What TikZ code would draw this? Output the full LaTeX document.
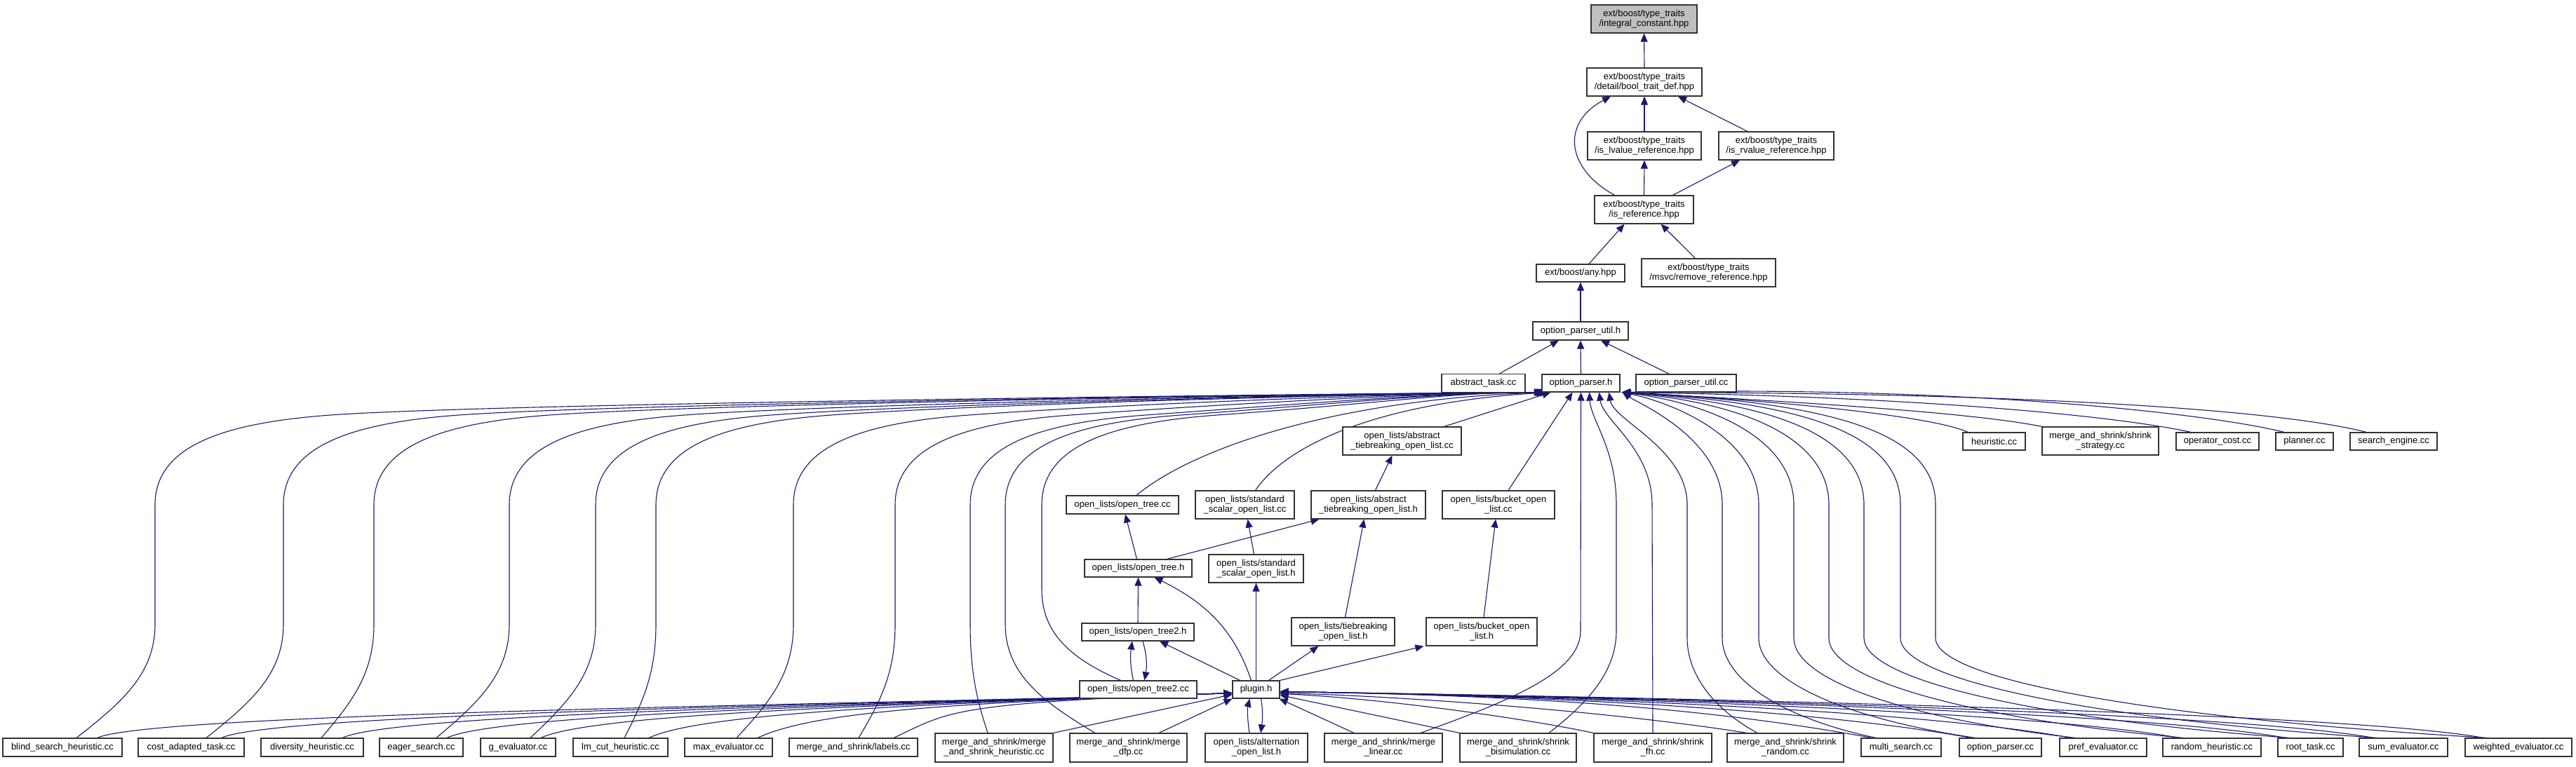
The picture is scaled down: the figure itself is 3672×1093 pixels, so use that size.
\documentclass[tikz,border=0pt]{standalone}
\usepackage{fontspec}
\setmainfont{Liberation Sans}
\usetikzlibrary{arrows.meta}
\definecolor{edgec}{HTML}{191970}
\pgfdeclarelayer{bg}
\pgfsetlayers{bg,main}
\newcommand\nd[6]{\node[#1,minimum width=#4pt,minimum height=#5pt] (#2) at (#3) {#6};}
% left bottom node -> option_parser.h through a vertical lane
\newcommand\lanel[5]{\draw[edge] ([xshift=#2pt]#1.north) .. controls ({#3+0.6*(#4-#3)},1000) and (#4,960) .. (#4,890) -- (#4,720) .. controls (#4,635) and ({#4+100},603) .. ({#4+250},592) .. controls ({#4+500},574) and (2050,560) .. ([xshift=#5pt]oph.south);}
% left bottom node -> plugin.h
\newcommand\plugl[3]{\draw[edge] ([xshift=#2pt]#1.north) .. controls ({#3+80},1015) and (1350,1003) .. ([yshift=-5pt]plug.west);}
% right bottom node -> option_parser.h through a vertical lane
\newcommand\laner[4]{\draw[edge] ([xshift=#2pt]#1.north) .. controls ({#3-0.6*(#3-#4)},1025) and (#4,970) .. (#4,910) -- (#4,720) .. controls (#4,625) and ({#4-120},575) .. ([xshift=3pt]oph.south east);}
% right bottom node -> plugin.h
\newcommand\plugr[3]{\draw[edge] ([xshift=#2pt]#1.north) .. controls ({#3-220},1012) and (2200,992) .. ([yshift=-3pt]plug.east);}
\begin{document}
\begin{tikzpicture}[x=1pt,y=-1pt,
  box/.style={draw=black!80, line width=1.2pt, fill=white, inner sep=0pt, align=center, font=\fontsize{13}{14}\selectfont},
  rootbox/.style={box, fill=black!25},
  edge/.style={draw=edgec, line width=1.1pt, -{Triangle[length=12pt,width=10pt]}}]
\useasboundingbox (0,0) rectangle (3672,1093);
\begin{pgfonlayer}{bg}
\fill[white] (0,0) rectangle (3672,1093);
\end{pgfonlayer}
% ---------- nodes ----------
\nd{rootbox}{ic}{2343.5,27}{151}{40}{ext/boost/type\_traits\\/integral\_constant.hpp}
\nd{box}{btd}{2344,117}{164}{40}{ext/boost/type\_traits\\/detail/bool\_trait\_def.hpp}
\nd{box}{lval}{2344,208}{162}{40}{ext/boost/type\_traits\\/is\_lvalue\_reference.hpp}
\nd{box}{rval}{2532,208}{164}{40}{ext/boost/type\_traits\\/is\_rvalue\_reference.hpp}
\nd{box}{isref}{2343.5,299}{141}{40}{ext/boost/type\_traits\\/is\_reference.hpp}
\nd{box}{any}{2253,389.5}{126}{25}{ext/boost/any.hpp}
\nd{box}{rmref}{2435.5,389}{191}{40}{ext/boost/type\_traits\\/msvc/remove\_reference.hpp}
\nd{box}{opuh}{2253,472}{136}{26}{option\_parser\_util.h}
\nd{box}{oph}{2253.5,546.5}{111}{25}{option\_parser.h}
\nd{box}{abt}{2114.5,546.5}{119}{26}{abstract\_task.cc}
\nd{box}{opuc}{2403.5,546.5}{143}{25}{option\_parser\_util.cc}
\nd{box}{heur}{2842.5,629.5}{89}{25}{heuristic.cc}
\nd{box}{shst}{2994,629}{166}{40}{merge\_and\_shrink/shrink\\\_strategy.cc}
\nd{box}{opc}{3161,629.5}{118}{25}{operator\_cost.cc}
\nd{box}{plan}{3285,629.5}{82}{25}{planner.cc}
\nd{box}{seng}{3412,629.5}{124}{25}{search\_engine.cc}
\nd{box}{atbcc}{1998.5,629}{169}{40}{open\_lists/abstract\\\_tiebreaking\_open\_list.cc}
\nd{box}{otcc}{1600,720}{160}{26}{open\_lists/open\_tree.cc}
\nd{box}{sscc}{1774.5,720}{141}{40}{open\_lists/standard\\\_scalar\_open\_list.cc}
\nd{box}{atbh}{1950.5,720}{163}{40}{open\_lists/abstract\\\_tiebreaking\_open\_list.h}
\nd{box}{bcc}{2136,720}{160}{40}{open\_lists/bucket\_open\\\_list.cc}
\nd{box}{oth}{1622.5,810.5}{153}{25}{open\_lists/open\_tree.h}
\nd{box}{ssh}{1790.5,811}{135}{40}{open\_lists/standard\\\_scalar\_open\_list.h}
\nd{box}{ot2h}{1622,901.5}{160}{25}{open\_lists/open\_tree2.h}
\nd{box}{tbh}{1914.5,901}{147}{40}{open\_lists/tiebreaking\\\_open\_list.h}
\nd{box}{bh}{2112,901}{158}{40}{open\_lists/bucket\_open\\\_list.h}
\nd{box}{ot2cc}{1622.5,983.5}{167}{25}{open\_lists/open\_tree2.cc}
\nd{box}{plug}{1790.5,983.5}{67}{25}{plugin.h}
% bottom row
\nd{box}{blind}{89,1066}{170}{26}{blind\_search\_heuristic.cc}
\nd{box}{cost}{272.5,1066}{151}{26}{cost\_adapted\_task.cc}
\nd{box}{div}{445,1066}{146}{26}{diversity\_heuristic.cc}
\nd{box}{eager}{600.5,1066}{119}{26}{eager\_search.cc}
\nd{box}{geval}{738.5,1066}{107}{26}{g\_evaluator.cc}
\nd{box}{lmcut}{884.5,1066}{135}{26}{lm\_cut\_heuristic.cc}
\nd{box}{maxev}{1038.5,1066}{125}{26}{max\_evaluator.cc}
\nd{box}{labels}{1216.5,1066}{183}{26}{merge\_and\_shrink/labels.cc}
\nd{box}{mash}{1417,1066.5}{168}{41}{merge\_and\_shrink/merge\\\_and\_shrink\_heuristic.cc}
\nd{box}{dfp}{1608.5,1066.5}{167}{41}{merge\_and\_shrink/merge\\\_dfp.cc}
\nd{box}{alt}{1791,1066.5}{146}{41}{open\_lists/alternation\\\_open\_list.h}
\nd{box}{mlin}{1972,1066.5}{168}{41}{merge\_and\_shrink/merge\\\_linear.cc}
\nd{box}{bisim}{2164,1066.5}{166}{41}{merge\_and\_shrink/shrink\\\_bisimulation.cc}
\nd{box}{fh}{2356,1066.5}{168}{41}{merge\_and\_shrink/shrink\\\_fh.cc}
\nd{box}{rand}{2545,1066.5}{166}{41}{merge\_and\_shrink/shrink\\\_random.cc}
\nd{box}{msearch}{2710,1066}{114}{26}{multi\_search.cc}
\nd{box}{opcc}{2851.5,1066}{117}{26}{option\_parser.cc}
\nd{box}{pref}{2998,1066}{124}{26}{pref\_evaluator.cc}
\nd{box}{rheur}{3153,1066}{140}{26}{random\_heuristic.cc}
\nd{box}{root}{3293.5,1066}{93}{26}{root\_task.cc}
\nd{box}{sum}{3426,1066}{126}{26}{sum\_evaluator.cc}
\nd{box}{weighted}{3590,1066}{152}{26}{weighted\_evaluator.cc}
% ---------- edges ----------
\begin{pgfonlayer}{bg}
\draw[edge] (btd.north) -- (ic.south);
\draw[edge] (lval.north) -- (btd.south);
\draw[edge] ([xshift=-41pt]rval.north) -- ([xshift=48pt]btd.south);
\draw[edge] ([xshift=-42pt]isref.north) .. controls (2232,240) and (2225,175) .. ([xshift=-48pt]btd.south);
\draw[edge] (isref.north) -- (lval.south);
\draw[edge] ([xshift=41pt]isref.north) -- ([xshift=-52pt]rval.south);
\draw[edge] ([xshift=12pt]any.north) -- ([xshift=-28pt]isref.south);
\draw[edge] ([xshift=-19pt]rmref.north) -- ([xshift=24pt]isref.south);
\draw[edge] (opuh.north) -- (any.south);
\draw[edge] ([xshift=23pt]abt.north) -- ([xshift=-31pt]opuh.south);
\draw[edge] (oph.north) -- (opuh.south);
\draw[edge] ([xshift=-24pt]opuc.north) -- ([xshift=29pt]opuh.south);
% middle
\draw[edge] ([xshift=60pt]atbcc.north) -- ([xshift=-43pt]oph.south);
\draw[edge] ([xshift=10pt]atbh.north) -- ([xshift=-14pt]atbcc.south);
\draw[edge] ([xshift=14pt]bcc.north) -- ([xshift=-12pt]oph.south);
\draw[edge] ([xshift=20pt]otcc.north) .. controls (1700,640) and (1900,570) .. ([xshift=-50pt]oph.south);
\draw[edge] ([xshift=15pt]sscc.north) .. controls (1830,640) and (1950,575) .. ([xshift=-46pt]oph.south);
\draw[edge] ([xshift=-2pt]oth.north) -- ([xshift=4pt]otcc.south);
\draw[edge] ([xshift=41pt]oth.north) -- ([xshift=-70pt]atbh.south);
\draw[edge] ([xshift=-3pt]ssh.north) -- ([xshift=4pt]sscc.south);
\draw[edge] ([xshift=3pt]tbh.north) -- ([xshift=-6pt]atbh.south);
\draw[edge] ([xshift=3pt]bh.north) -- ([xshift=-4pt]bcc.south);
\draw[edge] (ot2h.north) -- (oth.south);
\draw[edge] ([xshift=-7pt]ot2cc.north) .. controls (1611,950) and (1611,935) .. ([xshift=-8pt]ot2h.south);
\draw[edge] ([xshift=7pt]ot2h.south) .. controls (1635,935) and (1635,950) .. ([xshift=9pt]ot2cc.north);
\draw[edge] ([xshift=-23pt]plug.north) -- ([xshift=31pt]ot2h.south);
\draw[edge] ([xshift=-7pt]plug.north) .. controls (1760,900) and (1720,860) .. ([xshift=23pt]oth.south);
\draw[edge] (plug.north) -- (ssh.south);
\draw[edge] ([xshift=18pt]plug.north) -- ([xshift=-35pt]tbh.south);
\draw[edge] (plug.north east) -- ([xshift=-3pt]bh.south west);
\draw[edge] ([xshift=-25pt]ot2cc.north) .. controls (1515,935) and (1485,895) .. (1485,840) -- (1485,720) .. controls (1485,635) and (1585,603) .. (1735,592) .. controls (1985,574) and (2060,560) .. ([xshift=-52pt]oph.south);
% right top group
\draw[edge] ([xshift=-37.5pt]heur.north) .. controls (2760,595) and (2550,572) .. ([xshift=2pt]oph.south east);
\draw[edge] (shst.north west) .. controls (2820,590) and (2600,575) .. ([xshift=2pt]oph.south east);
\draw[edge] ([xshift=-38pt]opc.north) .. controls (3000,590) and (2700,565) .. ([xshift=2pt]oph.south east);
\draw[edge] ([xshift=-29pt]plan.north) .. controls (3150,590) and (2800,550) .. ([xshift=2pt]oph.south east);
\draw[edge] ([xshift=-39pt]seng.north) .. controls (3250,585) and (2900,560) .. ([xshift=2pt]oph.south east);
% bottom left -> option_parser.h
\lanel{blind}{20}{109}{221}{-55}
\lanel{cost}{21.5}{294}{404}{-54}
\lanel{div}{13}{458}{533}{-53}
\lanel{eager}{21.5}{622}{726}{-52}
\lanel{geval}{17.5}{756}{849}{-51}
\lanel{lmcut}{5.5}{890}{935}{-50}
\lanel{maxev}{11.5}{1050}{1131}{-49}
\lanel{labels}{7.5}{1224}{1276}{-48}
\lanel{mash}{-9}{1408}{1383}{-47}
\lanel{dfp}{-47.5}{1561}{1433}{-46}
% bottom left -> plugin.h
\plugl{blind}{50}{139}
\plugl{cost}{43.5}{316}
\plugl{div}{43}{488}
\plugl{eager}{36.5}{637}
\plugl{geval}{32.5}{771}
\plugl{lmcut}{40.5}{925}
\plugl{maxev}{41.5}{1080}
\plugl{labels}{57.5}{1274}
\draw[edge] (mash.north east) -- ([yshift=-7pt]plug.west);
\draw[edge] ([xshift=43.5pt]dfp.north) -- (plug.south west);
\draw[edge] ([xshift=-10pt]alt.north) .. controls (1778,1025) and (1778,1010) .. ([xshift=-9pt]plug.south);
\draw[edge] ([xshift=7pt]plug.south) .. controls (1800,1010) and (1800,1025) .. ([xshift=6pt]alt.north);
% bottom right -> plugin.h
\draw[edge] ([xshift=-42pt]mlin.north) -- ([xshift=-1pt]plug.south east);
\draw[edge] (bisim.north west) -- ([yshift=-8pt]plug.east);
\draw[edge] (fh.north west) .. controls (2150,1020) and (1950,995) .. ([yshift=-6pt]plug.east);
\draw[edge] ([xshift=-55pt]rand.north) .. controls (2300,1015) and (2000,993) .. ([yshift=-5pt]plug.east);
\plugr{msearch}{-42}{2668}
\plugr{opcc}{-42}{2809}
\plugr{pref}{-46}{2952}
\plugr{rheur}{-47}{3106}
\plugr{root}{-36}{3257}
\plugr{sum}{-43}{3383}
\plugr{weighted}{-50}{3540}
% bottom right -> option_parser.h
\draw[edge] ([xshift=53pt]mlin.north) .. controls (2150,1000) and (2253,960) .. (2253,900) -- (oph.south);
\draw[edge] ([xshift=44pt]bisim.north) .. controls (2260,1005) and (2304,960) .. (2304,900) -- (2304,720) .. controls (2304,640) and (2268,600) .. ([xshift=12pt]oph.south);
\draw[edge] (fh.north) -- (2355,720) .. controls (2355,640) and (2285,600) .. ([xshift=26pt]oph.south);
\draw[edge] ([xshift=-40pt]rand.north) .. controls (2440,1010) and (2405,960) .. (2405,910) -- (2405,720) .. controls (2405,640) and (2300,600) .. ([xshift=40pt]oph.south);
\laner{msearch}{-36}{2674}{2455}
\laner{opcc}{-36}{2815}{2507}
\laner{pref}{-40}{2958}{2557}
\laner{rheur}{-41}{3112}{2607}
\laner{root}{-30}{3263}{2657}
\laner{sum}{-37}{3389}{2709}
\laner{weighted}{-44}{3546}{2759}
\end{pgfonlayer}
\end{tikzpicture}
\end{document}
